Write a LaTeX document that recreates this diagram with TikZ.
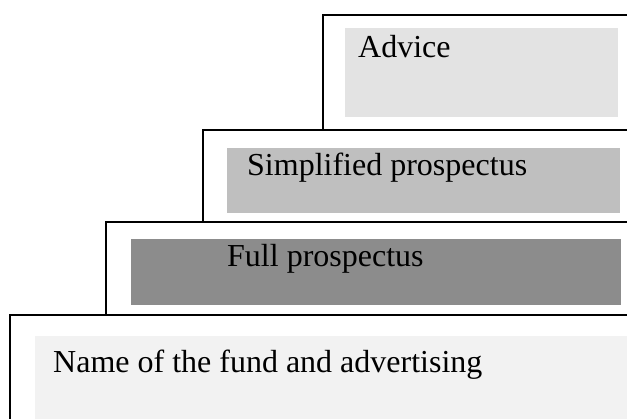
\documentclass[tikz,border=0pt]{standalone}
\usepackage{fontspec}
\setmainfont{Liberation Serif}
\usetikzlibrary{positioning}
\definecolor{advicegray}{HTML}{E3E3E3}
\definecolor{simplegray}{HTML}{BFBFBF}
\definecolor{fullgray}{HTML}{8C8C8C}
\definecolor{namegray}{HTML}{F2F2F2}
\tikzset{
  tierline/.style={line width=2pt},
  tierlabel/.style={anchor=base west, inner sep=0pt, font=\fontsize{32}{38}\selectfont},
}
\begin{document}
\begin{tikzpicture}[x=1pt,y=-1pt]
	\useasboundingbox (0,0) rectangle (627,419);
	
	% shaded panels
	\fill[advicegray] (345,28) rectangle (618,117);
	\fill[simplegray] (227,148) rectangle (620,213);
	\fill[fullgray] (131,239) rectangle (621,305);
	\fill[namegray] (35,336) rectangle (640,430);
	
	% steps: open to the right
	\draw[tierline] (323,130) -- (323,15) -- (640,15);
	\draw[tierline] (203,222) -- (203,130) -- (640,130);
	\draw[tierline] (106,315) -- (106,222) -- (640,222);
	\draw[tierline] (10,430) -- (10,315) -- (640,315);
	
	\node[tierlabel] (advice) at (358,58) {Advice};
	\node[tierlabel] (simple) at (247,176) {Simplified prospectus};
	\node[tierlabel] (full) at (227,267) {Full prospectus};
	\node[tierlabel] (name) at (53,373) {Name of the fund and advertising};
\end{tikzpicture}
\end{document}
